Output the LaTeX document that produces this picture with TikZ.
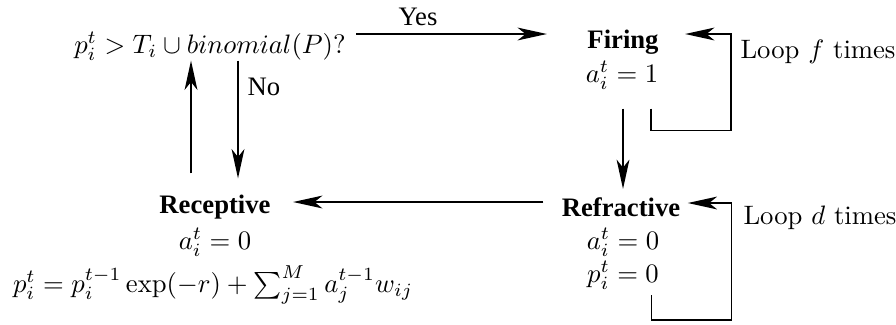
\documentclass[tikz,border=0pt]{standalone}
\usepackage{amsmath}
\usepackage{fontspec}
\newfontfamily\timesf{Liberation Serif}
\usetikzlibrary{arrows.meta,positioning}
\tikzset{
  state/.style ={font=\timesf\bfseries,inner sep=0pt},
  eqn/.style   ={inner sep=0pt},
  lbl/.style   ={font=\timesf,inner sep=0pt},
  loopl/.style ={inner sep=0pt,anchor=west},
  ar/.style    ={-{Stealth[length=11pt,width=4.8pt,inset=3pt]},line width=0.65pt},
}

\begin{document}
\begin{tikzpicture}[x=0.375pt,y=0.375pt]
\useasboundingbox (0,0) rectangle (896,324);
% decision
\node[eqn] (dec) at (210,278) {$p_i^t > T_i \cup binomial(P)?$};
% Firing state
\node[state] (fire) at (623,282) {Firing};
\node[eqn] (firea) at (622,249) {$a_i^t = 1$};
% Refractive state
\node[state] (refr) at (621,117) {Refractive};
\node[eqn] (refra) at (623,82) {$a_i^t = 0$};
\node[eqn] (refrp) at (623,49) {$p_i^t = 0$};
% Receptive state
\node[state] (rec) at (215,117) {Receptive};
\node[eqn] (reca) at (215,82) {$a_i^t = 0$};
\node[eqn] (recp) at (213,39) {$p_i^t = p_i^{t-1}\exp(-r) + \sum_{j=1}^{M} a_j^{t-1} w_{ij}$};
% labels
\node[lbl] (yes) at (418,307) {Yes};
\node[lbl,anchor=west] (no) at (247,237) {No};
\node[loopl] (loopf) at (740,272) {Loop $f$ times};
\node[loopl] (loopd) at (743,106) {Loop $d$ times};
% edges
\draw[ar] ([shift={(10,12)}]dec.east) -- ([shift={(-40,8)}]fire.west);
\draw[ar] ([shift={(28,0)}]dec.south) -- ([shift={(23,16)}]rec.north);
\draw[ar] ([shift={(-24,21)}]rec.north) -- ([shift={(-19,0)}]dec.south);
\draw[ar] ([shift={(1,-19)}]firea.south) -- ([shift={(2,8)}]refr.north);
\draw[ar] ([shift={(-18,5)}]refr.west) -- ([shift={(22,5)}]rec.east);
% self loops
\draw[ar] ([shift={(-8,-19)}]firea.south east) |- ++(80,-22) |- ([shift={(26,8)}]fire.east);
\draw[ar] ([shift={(-8,-20)}]refrp.east) |- ++(80,-25) |- ([shift={(7,4)}]refr.east);
\end{tikzpicture}
\end{document}
